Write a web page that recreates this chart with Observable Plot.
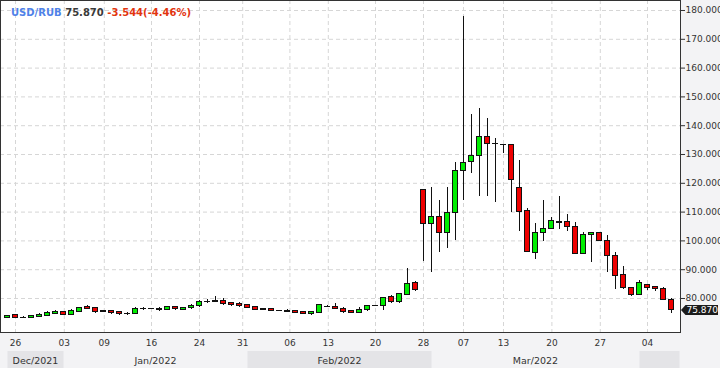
<!DOCTYPE html>
<html><head><meta charset="utf-8">
<script src="https://cdn.jsdelivr.net/npm/d3@7"></script>
<script src="https://cdn.jsdelivr.net/npm/@observablehq/plot@0.6"></script>
<style>
html,body{margin:0;padding:0;background:#f3f3f5;}
#chart{width:720px;height:368px;overflow:hidden;}
svg{display:block;}
</style></head><body><div id="chart"></div>
<script>
// ---- data ----
const pair = "USD/RUB";
const lastPrice = 75.870;
const changeText = "-3.544(-4.46%)";

const opens  = [73.2,74.1,73.45,73.3,73.64,74.0,74.55,75.14,74.34,75.38,76.9,76.53,75.83,75.5,75.14,74.7,74.55,76.4,76.4,76.5,76.07,77.1,76.18,76.6,77.3,78.84,78.7,79.2,78.37,78.26,77.57,76.88,75.9,76.4,75.7,75.83,75.5,75.24,74.7,75.03,77.2,77.22,76.4,75.5,74.9,75.93,77.45,77.33,80.35,78.7,81.3,85.3,117.7,105.7,108.4,102.9,109.8,124.3,127.4,129.5,136.1,133.7,133.4,133.4,118.4,110.5,95.9,102.8,104.2,106.1,106.6,104.9,95.5,102.1,102.8,100.0,94.8,88.2,83.7,81.3,84.7,84.0,83.4,79.6];
const highs  = [73.75,74.1,73.7,74.2,74.7,75.4,75.7,75.6,76.07,77.0,77.67,76.9,75.9,75.83,75.5,75.14,76.77,76.9,76.4,76.77,77.1,77.2,76.98,77.8,79.2,79.5,80.7,79.9,78.7,78.6,77.9,77.1,76.7,76.5,75.7,76.2,75.83,75.3,75.3,77.9,77.57,78.4,76.8,75.6,76.77,77.6,77.45,80.4,81.0,81.85,90.3,85.8,117.7,118.4,114.0,118.5,127.1,177.9,143.9,146.0,142.5,135.6,133.6,133.6,127.9,111.1,106.0,114.0,108.0,115.4,109.2,106.3,102.9,102.8,102.8,101.9,96.0,91.1,83.7,86.25,84.8,84.1,83.7,79.9];
const lows   = [73.15,73.3,73.2,73.2,73.5,73.9,74.4,74.0,74.2,75.03,76.07,74.9,75.1,74.55,74.2,74.2,74.3,75.9,76.4,75.6,76.0,75.9,75.9,76.3,76.9,78.2,78.6,77.45,77.3,76.9,76.4,75.9,75.7,75.6,75.7,75.2,74.8,74.6,74.2,75.0,76.9,76.07,74.9,74.8,74.8,75.5,77.45,75.83,78.3,78.3,81.0,82.5,92.95,89.1,96.1,97.5,100.1,114.0,123.3,115.5,115.5,113.4,130.4,110.0,103.4,96.0,93.6,99.9,104.2,104.1,103.4,95.3,95.3,92.6,100.0,89.1,83.0,83.0,80.8,81.3,82.9,82.55,79.3,74.7];
const closes = [73.75,73.3,73.45,73.85,74.34,74.9,75.24,74.34,75.5,76.77,76.4,75.24,75.24,74.9,74.55,74.7,76.3,76.4,76.4,75.95,77.1,76.3,76.77,77.45,78.86,78.84,79.3,78.0,77.67,77.3,76.77,76.07,76.5,75.7,75.7,75.24,74.9,74.7,75.24,77.57,77.2,76.3,75.24,74.9,76.18,77.45,77.45,80.25,78.7,81.4,85.1,83.0,105.7,108.4,102.9,109.8,124.3,127.1,129.6,136.1,133.7,133.7,133.4,121.2,110.0,96.1,102.8,104.2,106.97,106.6,104.9,95.5,102.1,102.8,100.0,94.8,87.9,83.7,81.3,85.4,83.7,83.2,79.414,75.87];

// x tick positions (in candle slots) and their labels
const xTickPos    = [1, 7.1, 12.1, 18, 24, 29.4, 35.3, 40.1, 46, 52, 57, 62, 68.05, 74.1, 80];
const xTickLabels = ["26","03","09","16","24","31","06","13","20","28","07","13","20","27","04"];
const yTicks = [80, 90, 100, 110, 120, 130, 140, 150, 160, 170, 180];

// month bands: first candle slot of each month
const monthStarts = [0, 7, 30, 53, 79];
const monthEnd = 84;
const monthLabels = ["Dec/2021", "Jan/2022", "Feb/2022", "Mar/2022", ""];

// ---- build ----
const candles = opens.map((o, i) => ({i, open: o, high: highs[i], low: lows[i], close: closes[i]}));
const bodies = candles.filter(d => d.open !== d.close);
const dojis = candles.filter(d => d.open === d.close);
const labelMap = new Map(xTickPos.map((p, k) => [p, xTickLabels[k]]));
const halfW = 2.5 / 8;
const ink = "#111";

const chart = Plot.plot({
  width: 720, height: 368,
  marginTop: 0, marginLeft: 0, marginRight: 40, marginBottom: 36,
  style: {background: "transparent", fontFamily: "DejaVu Sans", fontSize: "9px", color: "#333", overflow: "visible"},
  x: {domain: [-0.875, 84.125]},
  y: {domain: [68.194, 183.472]},
  marks: [
    Plot.frame({fill: "white", stroke: "none"}),
    Plot.gridY(yTicks, {stroke: "#d6d6d6", strokeOpacity: 1, strokeDasharray: "4,3"}),
    Plot.gridX(xTickPos, {stroke: "#d6d6d6", strokeOpacity: 1, strokeDasharray: "4,3"}),
    Plot.ruleX(candles, {x: "i", y1: "low", y2: "high", stroke: ink, strokeWidth: 1, shapeRendering: "crispEdges"}),
    Plot.rect(bodies, {
      x1: d => d.i - halfW, x2: d => d.i + halfW, y1: "open", y2: "close",
      fill: d => d.close > d.open ? "#00ee00" : "#ee0000",
      stroke: ink, strokeWidth: 1, shapeRendering: "crispEdges"
    }),
    Plot.ruleY(dojis, {y: "close", x1: d => d.i - halfW - 0.06, x2: d => d.i + halfW + 0.06, stroke: ink, strokeWidth: 1, shapeRendering: "crispEdges"}),
    Plot.frame({stroke: "#333", strokeWidth: 1}),
    Plot.axisY(yTicks, {anchor: "right", tickSize: 4, tickPadding: 1, tickFormat: d3.format(".3f"), label: null, fontSize: 9, fill: "#333"}),
    Plot.axisX(xTickPos, {anchor: "bottom", tickSize: 0, tickPadding: 7, tickFormat: d => labelMap.get(d), label: null, fontSize: 9, fill: "#333"})
  ]
});
document.getElementById("chart").appendChild(chart);

const xs = chart.scale("x"), ys = chart.scale("y");
const svg = d3.select(chart);

// month bands
const bandG = svg.append("g");
monthStarts.forEach((s, k) => {
  const e = k + 1 < monthStarts.length ? monthStarts[k + 1] : monthEnd;
  const x0 = xs.apply(s) + 0.5, x1 = xs.apply(e) + 0.5;
  if (k % 2 === 0) {
    bandG.append("rect").attr("x", x0).attr("y", 351).attr("width", x1 - x0).attr("height", 17).attr("fill", "#e4e4e7");
  }
  if (monthLabels[k]) {
    bandG.append("text").attr("x", (x0 + x1) / 2).attr("y", 363.5)
      .attr("text-anchor", "middle").attr("font-family", "DejaVu Sans").attr("font-size", 9.5)
      .attr("fill", "#333").text(monthLabels[k]);
  }
});

// header
const hdr = svg.append("text").attr("x", 11).attr("y", 15.5).attr("text-anchor", "start")
  .attr("font-family", "DejaVu Sans").attr("font-size", 10).attr("font-weight", "bold");
hdr.append("tspan").attr("fill", "#4f82e8").text(pair);
hdr.append("tspan").attr("fill", "#3a3a3a").text(" " + d3.format(".3f")(lastPrice));
hdr.append("tspan").attr("fill", "#e2350f").text(" " + changeText);

// last price tag
const yc = ys.apply(lastPrice);
const tag = svg.append("g");
tag.append("path").attr("d", `M681,${yc} L685.5,${yc - 5} L718,${yc - 5} L718,${yc + 5} L685.5,${yc + 5} Z`).attr("fill", "#1c1c1c");
tag.append("text").attr("x", 686.5).attr("y", yc + 3.3).attr("text-anchor", "start").attr("font-family", "DejaVu Sans").attr("font-size", 9)
  .attr("fill", "white").text(d3.format(".3f")(lastPrice));
</script></body></html>
